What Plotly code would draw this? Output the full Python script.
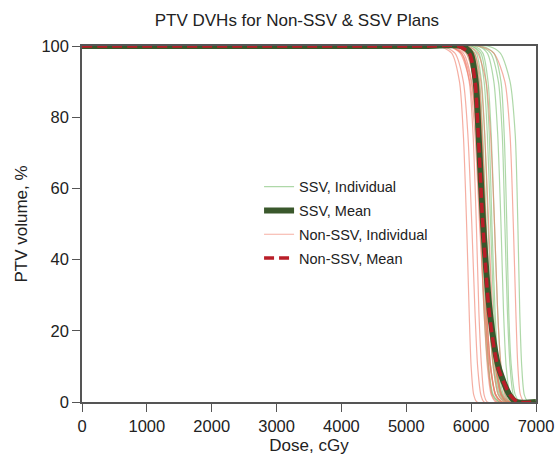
import plotly.graph_objects as go

# Dose (cGy) up to which every curve is still at 100 % volume
plateau_dose = 5300
# Volume levels (%) at which dose values (cGy) were read for each curve
vol_levels = [100, 98, 90, 75, 50, 25, 10, 2, 0]

ssv_individual = [
    [5900, 6050, 6130, 6180, 6230, 6280, 6340, 6420, 6520],
    [6000, 6120, 6200, 6250, 6300, 6350, 6400, 6470, 6560],
    [6100, 6250, 6350, 6410, 6460, 6500, 6540, 6600, 6680],
    [6250, 6450, 6600, 6680, 6720, 6750, 6780, 6820, 6880],
    [5850, 6000, 6090, 6140, 6190, 6240, 6300, 6380, 6480],
    [5950, 6080, 6160, 6210, 6260, 6320, 6390, 6480, 6580],
    [6050, 6180, 6260, 6310, 6360, 6410, 6460, 6530, 6620],
    [5800, 5960, 6060, 6120, 6170, 6220, 6270, 6340, 6440],
    [6100, 6300, 6420, 6480, 6520, 6560, 6600, 6650, 6720],
    [5900, 6030, 6110, 6160, 6220, 6290, 6370, 6460, 6560],
    [6000, 6150, 6230, 6280, 6320, 6370, 6420, 6500, 6600],
    [5750, 5930, 6040, 6100, 6150, 6200, 6260, 6330, 6430],
    [6150, 6350, 6460, 6510, 6550, 6580, 6620, 6680, 6760],
    [5850, 5990, 6070, 6130, 6200, 6270, 6350, 6440, 6540],
]

non_ssv_individual = [
    [5550, 5750, 5880, 5950, 6010, 6060, 6100, 6150, 6200],
    [5700, 5880, 6010, 6080, 6140, 6200, 6250, 6310, 6380],
    [5650, 5850, 6000, 6090, 6170, 6240, 6300, 6370, 6450],
    [5800, 5950, 6060, 6120, 6180, 6240, 6300, 6380, 6480],
    [5750, 5920, 6050, 6130, 6210, 6290, 6370, 6460, 6550],
    [5850, 6000, 6100, 6160, 6220, 6280, 6340, 6420, 6520],
    [5500, 5700, 5820, 5880, 5930, 5970, 6000, 6040, 6090],
    [5900, 6050, 6150, 6210, 6270, 6330, 6390, 6460, 6560],
    [5650, 5850, 5970, 6030, 6080, 6120, 6160, 6200, 6250],
    [5950, 6100, 6230, 6300, 6360, 6410, 6460, 6520, 6600],
    [6100, 6350, 6520, 6600, 6650, 6690, 6720, 6760, 6820],
    [5800, 5980, 6080, 6140, 6190, 6230, 6270, 6320, 6400],
    [5650, 5830, 5980, 6060, 6130, 6210, 6290, 6380, 6480],
    [5900, 6030, 6120, 6170, 6230, 6300, 6380, 6480, 6600],
]

ssv_mean = [5850, 5990, 6070, 6115, 6185, 6290, 6420, 6590, 6700]
non_ssv_mean = [5800, 5970, 6060, 6110, 6180, 6280, 6410, 6600, 6720]

dose_min = 0
dose_max = 7000

x_ticks = [0, 1000, 2000, 3000, 4000, 5000, 6000, 7000]
y_ticks = [0, 20, 40, 60, 80, 100]


def full_curve(doses):
    xs = [dose_min, plateau_dose] + list(doses) + [dose_max]
    ys = [vol_levels[0], vol_levels[0]] + list(vol_levels) + [vol_levels[-1]]
    return xs, ys


fig = go.Figure()

ssv_ind_color = "rgba(120,190,110,0.6)"
non_ind_color = "rgba(238,120,100,0.6)"
ssv_mean_color = "rgb(58,88,44)"
non_mean_color = "rgb(185,30,40)"

for i, d in enumerate(ssv_individual):
    xs, ys = full_curve(d)
    fig.add_trace(go.Scatter(x=xs, y=ys, mode="lines",
                             line=dict(color=ssv_ind_color, width=1.2,
                                       shape="spline", smoothing=0.7),
                             name="SSV, Individual", legendgroup="a",
                             legendrank=1, showlegend=(i == 0)))

for i, d in enumerate(non_ssv_individual):
    xs, ys = full_curve(d)
    fig.add_trace(go.Scatter(x=xs, y=ys, mode="lines",
                             line=dict(color=non_ind_color, width=1.2,
                                       shape="spline", smoothing=0.7),
                             name="Non-SSV, Individual", legendgroup="c",
                             legendrank=3, showlegend=(i == 0)))

xs, ys = full_curve(ssv_mean)
fig.add_trace(go.Scatter(x=xs, y=ys, mode="lines",
                         line=dict(color=ssv_mean_color, width=6,
                                   shape="spline", smoothing=0.7),
                         name="SSV, Mean", legendgroup="b", legendrank=2))

xs, ys = full_curve(non_ssv_mean)
fig.add_trace(go.Scatter(x=xs, y=ys, mode="lines",
                         line=dict(color=non_mean_color, width=3.5, dash="10px,5px",
                                   shape="spline", smoothing=0.7),
                         name="Non-SSV, Mean", legendgroup="d", legendrank=4))

axis_common = dict(
    showline=True, linecolor="#555555", linewidth=1.5, mirror=True,
    ticks="outside", ticklen=8, tickwidth=1.2, tickcolor="#555555",
    showgrid=False, zeroline=False, automargin=False,
    tickfont=dict(size=16.5, color="#222222"),
)

fig.update_layout(
    width=555, height=463,
    margin=dict(l=82, r=19, t=46, b=61),
    paper_bgcolor="white", plot_bgcolor="white",
    hovermode=False,
    font=dict(family="Liberation Sans, Arial, sans-serif", color="#222222"),
    title=dict(text="PTV DVHs for Non-SSV & SSV Plans", x=0.535, xanchor="center",
               y=0.957, yanchor="middle", font=dict(size=17, color="#222222")),
    xaxis=dict(range=[dose_min, dose_max], tickvals=x_ticks,
               title=dict(text="Dose, cGy", font=dict(size=17), standoff=6),
               **axis_common),
    yaxis=dict(range=[0, 100], tickvals=y_ticks,
               title=dict(text="PTV volume, %", font=dict(size=17), standoff=9),
               **axis_common),
    legend=dict(x=0.39, y=0.65, xanchor="left", yanchor="top",
                bgcolor="rgba(0,0,0,0)", font=dict(size=14.5, color="#222222"),
                traceorder="grouped", tracegroupgap=2, itemwidth=30),
    showlegend=True,
)

fig.write_html(
    "out.html",
    config={"displayModeBar": False},
    post_script="document.body.style.margin='0';document.body.style.overflow='hidden';",
)
